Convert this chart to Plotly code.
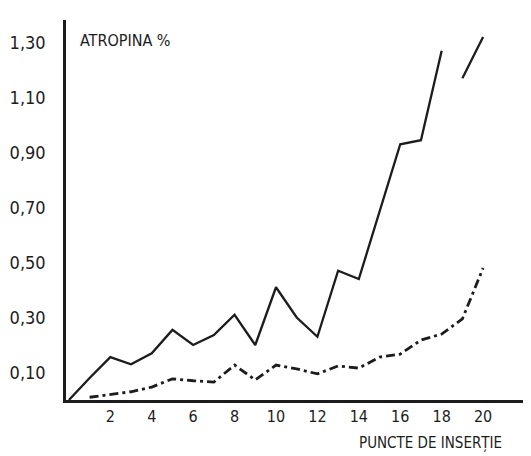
import plotly.graph_objects as go

# Data
x_solid = [0, 1, 2, 3, 4, 5, 6, 7, 8, 9, 10, 11, 12, 13, 14, 16, 17, 18, 18.5, 19, 20]
y_solid = [0.0, 0.08, 0.156, 0.13, 0.17, 0.255, 0.20, 0.236, 0.31, 0.20, 0.41, 0.30, 0.23, 0.47, 0.44, 0.93, 0.945, 1.27, None, 1.17, 1.32]

x_dash = [1, 2, 3, 4, 5, 6, 7, 8, 9, 10, 11, 12, 13, 14, 15, 16, 17, 18, 19, 20]
y_dash = [0.01, 0.02, 0.03, 0.047, 0.077, 0.07, 0.065, 0.127, 0.073, 0.127, 0.113, 0.095, 0.124, 0.116, 0.156, 0.167, 0.218, 0.24, 0.295, 0.48]

x_ticks = [2, 4, 6, 8, 10, 12, 14, 16, 18, 20]
x_tick_labels = ["2", "4", "6", "8", "10", "12", "14", "16", "18", "20"]
y_ticks = [0.10, 0.30, 0.50, 0.70, 0.90, 1.10, 1.30]
y_tick_labels = ["0,10", "0,30", "0,50", "0,70", "0,90", "1,10", "1,30"]

ink = "#1c1c1c"
font_family = "DejaVu Sans Condensed, DejaVu Sans, sans-serif"

fig = go.Figure()
fig.add_trace(go.Scatter(x=x_solid, y=y_solid, mode="lines",
                         line=dict(color=ink, width=2.3), connectgaps=False,
                         showlegend=False, hoverinfo="skip"))
fig.add_trace(go.Scatter(x=x_dash, y=y_dash, mode="lines",
                         line=dict(color=ink, width=2.8, dash="9px,4px,3px,4px"),
                         showlegend=False, hoverinfo="skip"))

fig.update_layout(
    width=531, height=456,
    margin=dict(l=58, r=0, t=12, b=64),
    paper_bgcolor="white", plot_bgcolor="white",
    font=dict(family=font_family, color=ink, size=16),
    xaxis=dict(range=[-0.14, 22.7], tickmode="array", tickvals=x_ticks,
               ticktext=x_tick_labels, showgrid=False, zeroline=False,
               showline=True, linecolor=ink, linewidth=2.5,
               ticks="", tickfont=dict(size=16, family=font_family)),
    yaxis=dict(range=[0, 1.382], tickmode="array", tickvals=y_ticks,
               ticktext=y_tick_labels, showgrid=False, zeroline=False,
               showline=True, linecolor=ink, linewidth=2.5,
               ticks="outside", ticklen=14, tickcolor="rgba(0,0,0,0)",
               tickfont=dict(size=18, family=font_family)),
    annotations=[
        dict(text="ATROPINA %", xref="paper", yref="paper", x=0.025, y=0.947,
             xanchor="left", yanchor="middle", showarrow=False,
             font=dict(size=16, family=font_family, color=ink)),
        dict(text="PUNCTE DE INSERȚIE", xref="paper", yref="paper", x=0.615, y=-0.112,
             xanchor="left", yanchor="middle", showarrow=False,
             font=dict(size=15, family=font_family, color=ink)),
    ],
)

fig.write_html("out.html")
